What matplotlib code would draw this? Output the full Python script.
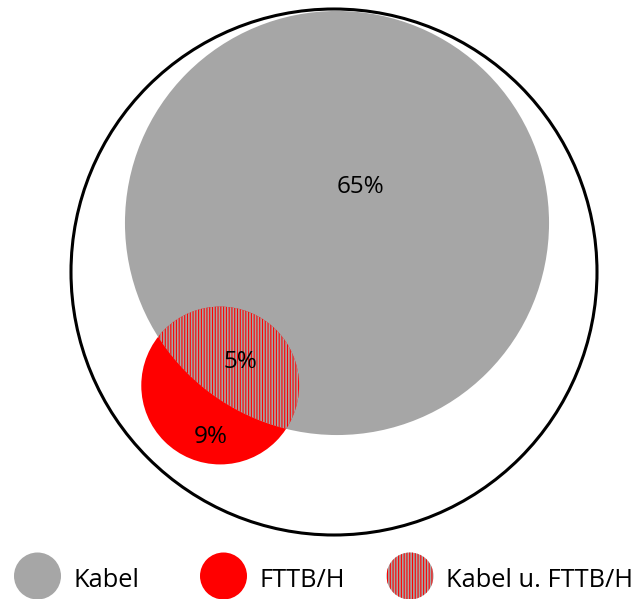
import numpy as np
import matplotlib.pyplot as plt
from matplotlib.patches import Circle

plt.rcParams['hatch.linewidth'] = 0.8

# shares of the whole (outer circle = 100 %)
labels = ["Kabel", "FTTB/H", "Kabel u. FTTB/H"]
share_kabel = 65
share_fttb = 9
share_both = 5
region_labels = ["65%", "9%", "5%"]

gray = "#a6a6a6"
red = "#ff0000"

# layout (pixels, y down)
R = 263
outer_c = (334, 272)
gray_c = (337, 223)
direction = np.array([-115.0, 160.0])
direction /= np.linalg.norm(direction)

r_gray = R * np.sqrt(share_kabel / 100)
r_red = R * np.sqrt(share_fttb / 100)


def lens_area(r1, r2, d):
    a1 = np.arccos((d**2 + r1**2 - r2**2) / (2 * d * r1))
    a2 = np.arccos((d**2 + r2**2 - r1**2) / (2 * d * r2))
    return r1**2 * (a1 - np.sin(2 * a1) / 2) + r2**2 * (a2 - np.sin(2 * a2) / 2)


# find centre distance so the overlap has the wanted share
target = np.pi * R**2 * share_both / 100
lo, hi = r_gray - r_red + 1e-6, r_gray + r_red - 1e-6
for _ in range(60):
    mid = (lo + hi) / 2
    if lens_area(r_gray, r_red, mid) > target:
        lo = mid
    else:
        hi = mid
d = (lo + hi) / 2
red_c = tuple(np.array(gray_c) + direction * d)

fig = plt.figure(figsize=(6.39, 5.99), dpi=100)
ax = fig.add_axes([0, 0, 1, 1])
ax.set_xlim(0, 639)
ax.set_ylim(599, 0)
ax.set_aspect('equal')
ax.axis('off')

ax.add_patch(Circle(outer_c, R, facecolor='white', edgecolor='black', lw=2.2))
gray_circle = Circle(gray_c, r_gray, facecolor=gray, edgecolor='none', lw=0)
ax.add_patch(gray_circle)
ax.add_patch(Circle(red_c, r_red, facecolor=red, edgecolor='none', lw=0))
both = Circle(red_c, r_red, facecolor=gray, edgecolor=red, lw=0, hatch='||||||')
ax.add_patch(both)
both.set_clip_path(gray_circle)

font = "Open Sans"
ax.text(360, 187, region_labels[0], fontsize=17.5, family=font, ha='center', va='center')
ax.text(211, 437, region_labels[1], fontsize=17.5, family=font, ha='center', va='center')
ax.text(240, 362, region_labels[2], fontsize=17.5, family=font, ha='center', va='center')

# legend
marker_x = [37.5, 223.5, 410]
text_x = [73, 260, 446]
styles = [dict(facecolor=gray, edgecolor='none'),
          dict(facecolor=red, edgecolor='none'),
          dict(facecolor=gray, edgecolor=red, hatch='||||||')]
for lab, mx, tx, st in zip(labels, marker_x, text_x, styles):
    ax.add_patch(Circle((mx, 576), 23.5, lw=0, **st))
    ax.text(tx, 587, lab, fontsize=18.3, family=font, ha='left', va='baseline')

fig.savefig("out.png", dpi=100)
